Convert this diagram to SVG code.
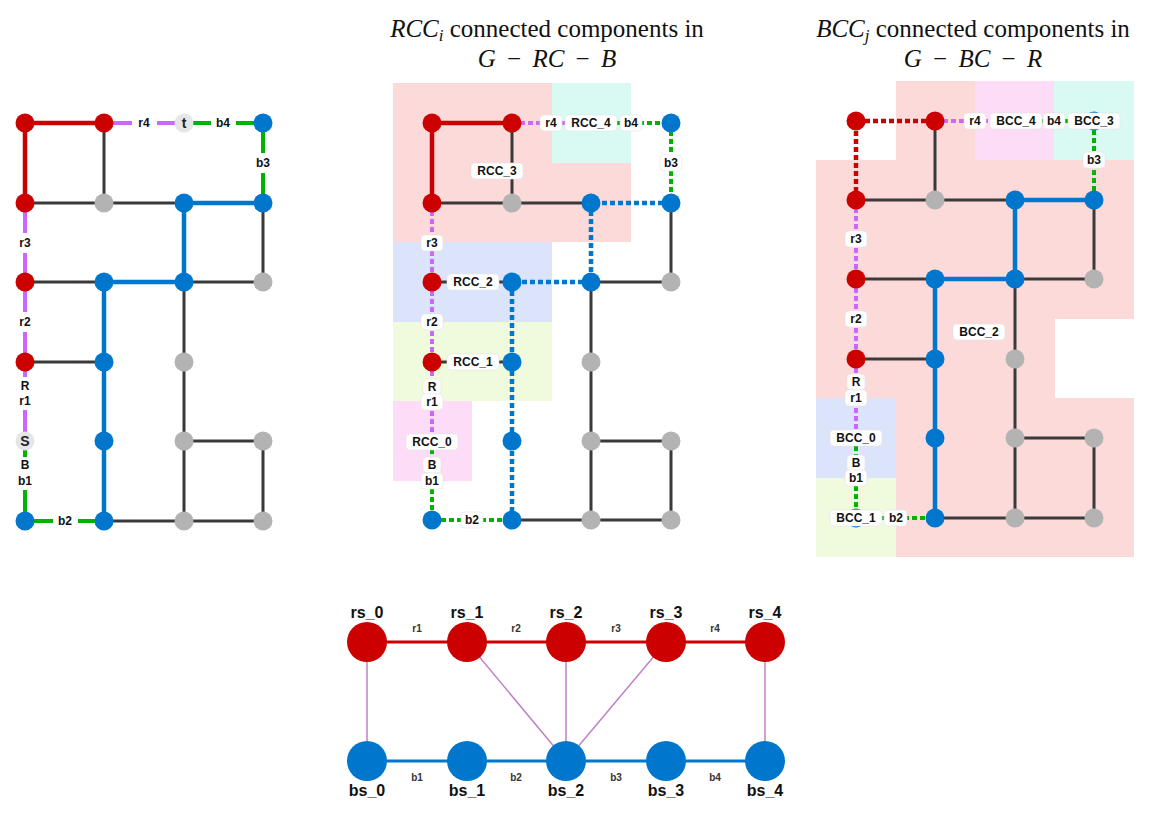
<svg xmlns="http://www.w3.org/2000/svg" width="1156" height="821" viewBox="0 0 1156 821">
<style>
.red{fill:#cc0000}.blue{fill:#0077cc}.gray{fill:#b3b3b3}.lt{fill:#e6e6e6}
.ed{stroke:#3a3a3a;stroke-width:3;fill:none}
.er{stroke:#cc0000;stroke-width:4.5;fill:none}
.eb{stroke:#0077cc;stroke-width:4.5;fill:none}
.ep{stroke:#cc66ff;stroke-width:4;fill:none}
.eg{stroke:#00b300;stroke-width:4;fill:none}
.dot{stroke-dasharray:5 3}
.lb{font-family:"Liberation Sans",Arial,sans-serif;font-weight:bold;font-size:12px;fill:#111;text-anchor:middle;dominant-baseline:central}
.box{fill:#fff;stroke:#e2e2e2;stroke-width:0.6}
.box0{fill:#fff}
.nl{font-family:"Liberation Sans",Arial,sans-serif;font-weight:bold;font-size:14px;fill:#222;text-anchor:middle;dominant-baseline:central}
.title{font-family:"Liberation Serif","DejaVu Serif",serif;font-size:25px;fill:#111;text-anchor:middle}
.bn{font-family:"Liberation Sans",Arial,sans-serif;font-weight:bold;font-size:16px;fill:#111;text-anchor:middle}
.bl{font-family:"Liberation Sans",Arial,sans-serif;font-weight:bold;font-size:10px;fill:#333;text-anchor:middle}
.pr{stroke:#cc0000;stroke-width:3}
.pb{stroke:#0077cc;stroke-width:3}
.pm{stroke:#c080c8;stroke-width:1.5}
</style>

<!-- titles -->
<g id="titles">
<text class="title" x="547" y="37"><tspan font-style="italic">RCC</tspan><tspan font-style="italic" font-size="17" dy="4">i</tspan><tspan dy="-4"> connected components in</tspan></text>
<text class="title" x="547" y="67"><tspan font-style="italic">G</tspan><tspan dx="5"> − </tspan><tspan dx="5" font-style="italic">RC</tspan><tspan dx="5"> − </tspan><tspan dx="5" font-style="italic">B</tspan></text>
<text class="title" x="973" y="37"><tspan font-style="italic">BCC</tspan><tspan font-style="italic" font-size="17" dy="4">j</tspan><tspan dy="-4"> connected components in</tspan></text>
<text class="title" x="973" y="67"><tspan font-style="italic">G</tspan><tspan dx="5"> − </tspan><tspan dx="5" font-style="italic">BC</tspan><tspan dx="5"> − </tspan><tspan dx="5" font-style="italic">R</tspan></text>
</g>

<!-- background regions -->
<g id="regions">
<path d="M393 83H631V242H393Z" fill="#fcdada"/>
<rect x="552" y="83" width="79" height="80" fill="#d8faf2"/>
<rect x="393" y="242" width="159" height="80" fill="#dbe4fb"/>
<rect x="393" y="322" width="159" height="79" fill="#effbdc"/>
<rect x="393" y="401" width="79" height="80" fill="#fcdcf6"/>

<path d="M896 81H975V160H1134V319H1055V398H1134V557H896V398H816V160H896Z" fill="#fcdada"/>
<rect x="975" y="81" width="79" height="79" fill="#fcdcf6"/>
<rect x="1054" y="81" width="80" height="79" fill="#d8faf2"/>
<rect x="816" y="398" width="80" height="80" fill="#dbe4fb"/>
<rect x="816" y="478" width="80" height="79" fill="#effbdc"/>
</g>

<!-- connectors -->
<g id="connectors">
<!-- left grid -->
<path class="ed" d="M104 123V203M25 203H184M263 203V282M25 282H104M184 282H263M184 282V521M25 362H104M184 441H263M263 441V521M104 521H263"/>
<path class="er" d="M25 203V123H104"/>
<path class="eb" d="M263 203H184V282M184 282H104V521"/>
<path class="ep" d="M104 123H184M25 203V441"/>
<path class="eg" d="M184 123H263V203M25 441V521H104"/>

<!-- middle grid -->
<path class="ed" d="M512 123V203M432 203H591M671 203V282M432 282H512M591 282H671M591 282V520M432 362H512M591 441H671M671 441V520M512 520H671"/>
<path class="er" d="M432 203V123H512"/>
<path class="eb dot" d="M671 203H591V282M591 282H512V520"/>
<path class="ep dot" d="M512 123H591M432 203V441"/>
<path class="eg dot" d="M591 123H671V203M432 441V520H512"/>

<!-- right grid -->
<path class="ed" d="M935 121V200M856 200H1015M1094 200V279M856 279H935M1015 279H1094M1015 279V518M856 359H935M1015 438H1094M1094 438V518M935 518H1094"/>
<path class="er dot" d="M856 200V121H935"/>
<path class="eb" d="M1094 200H1015V279M1015 279H935V518"/>
<path class="ep dot" d="M935 121H1015M856 200V438"/>
<path class="eg dot" d="M1015 121H1094V200M856 438V518H935"/>

<!-- edge labels left -->
<rect class="box0" x="132" y="115" width="25" height="16"/><text class="lb" x="144" y="123">r4</text>
<rect class="box0" x="211" y="115" width="25" height="16"/><text class="lb" x="223" y="123">b4</text>
<rect class="box0" x="252" y="153" width="22" height="20"/><text class="lb" x="263" y="163">b3</text>
<rect class="box0" x="14" y="233" width="22" height="20"/><text class="lb" x="25" y="243">r3</text>
<rect class="box0" x="14" y="312" width="22" height="20"/><text class="lb" x="25" y="322">r2</text>
<rect class="box0" x="14" y="377" width="22" height="33"/><text class="lb" x="25" y="386">R</text><text class="lb" x="25" y="401">r1</text>
<rect class="box0" x="14" y="457" width="22" height="33"/><text class="lb" x="25" y="465">B</text><text class="lb" x="25" y="481">b1</text>
<rect class="box0" x="53" y="513" width="25" height="16"/><text class="lb" x="65" y="521">b2</text>

<!-- edge labels middle -->
<rect class="box" x="540" y="115" width="22" height="16" rx="4"/><text class="lb" x="551" y="123">r4</text>
<rect class="box" x="620" y="115" width="22" height="16" rx="4"/><text class="lb" x="631" y="123">b4</text>
<rect class="box" x="660" y="155" width="22" height="16" rx="4"/><text class="lb" x="671" y="163">b3</text>
<rect class="box" x="421" y="235" width="22" height="16" rx="4"/><text class="lb" x="432" y="243">r3</text>
<rect class="box" x="421" y="314" width="22" height="16" rx="4"/><text class="lb" x="432" y="322">r2</text>
<rect class="box" x="423" y="379" width="18" height="16" rx="4"/><text class="lb" x="432" y="387">R</text>
<rect class="box" x="421" y="394" width="22" height="16" rx="4"/><text class="lb" x="432" y="402">r1</text>
<rect class="box" x="423" y="457" width="18" height="16" rx="4"/><text class="lb" x="432" y="465">B</text>
<rect class="box" x="421" y="473" width="22" height="16" rx="4"/><text class="lb" x="432" y="481">b1</text>
<rect class="box" x="461" y="512" width="22" height="16" rx="4"/><text class="lb" x="472" y="520">b2</text>

<!-- edge labels right -->
<rect class="box" x="964" y="113" width="22" height="16" rx="4"/><text class="lb" x="975" y="121">r4</text>
<rect class="box" x="1043" y="113" width="22" height="16" rx="4"/><text class="lb" x="1054" y="121">b4</text>
<rect class="box" x="1083" y="152" width="22" height="16" rx="4"/><text class="lb" x="1094" y="160">b3</text>
<rect class="box" x="845" y="231" width="22" height="16" rx="4"/><text class="lb" x="856" y="239">r3</text>
<rect class="box" x="845" y="311" width="22" height="16" rx="4"/><text class="lb" x="856" y="319">r2</text>
<rect class="box" x="847" y="374" width="18" height="16" rx="4"/><text class="lb" x="856" y="382">R</text>
<rect class="box" x="845" y="390" width="22" height="16" rx="4"/><text class="lb" x="856" y="398">r1</text>
<rect class="box" x="847" y="455" width="18" height="16" rx="4"/><text class="lb" x="856" y="463">B</text>
<rect class="box" x="845" y="470" width="22" height="16" rx="4"/><text class="lb" x="856" y="478">b1</text>
<rect class="box" x="884" y="510" width="23" height="16" rx="4"/><text class="lb" x="896" y="518">b2</text>

<!-- bottom graph edges -->
<path class="pm" d="M367 642V761M467 642L566 761M566 642V761M666 642L566 761M765 642V761"/>
<path class="pr" d="M367 642H765"/>
<path class="pb" d="M367 761H765"/>
<text class="bl" x="417" y="632">r1</text>
<text class="bl" x="516" y="632">r2</text>
<text class="bl" x="616" y="632">r3</text>
<text class="bl" x="715" y="632">r4</text>
<text class="bl" x="417" y="781">b1</text>
<text class="bl" x="516" y="781">b2</text>
<text class="bl" x="616" y="781">b3</text>
<text class="bl" x="715" y="781">b4</text>
</g>

<!-- left grid nodes -->
<g id="L00"><circle class="red" cx="25" cy="123" r="9.5"/></g>
<g id="L01"><circle class="red" cx="104" cy="123" r="9.5"/></g>
<g id="L02"><circle class="lt" cx="184" cy="123" r="9.5"/><text class="nl" x="184" y="123">t</text></g>
<g id="L03"><circle class="blue" cx="263" cy="123" r="9.5"/></g>
<g id="L10"><circle class="red" cx="25" cy="203" r="9.5"/></g>
<g id="L11"><circle class="gray" cx="104" cy="203" r="9.5"/></g>
<g id="L12"><circle class="blue" cx="184" cy="203" r="9.5"/></g>
<g id="L13"><circle class="blue" cx="263" cy="203" r="9.5"/></g>
<g id="L20"><circle class="red" cx="25" cy="282" r="9.5"/></g>
<g id="L21"><circle class="blue" cx="104" cy="282" r="9.5"/></g>
<g id="L22"><circle class="blue" cx="184" cy="282" r="9.5"/></g>
<g id="L23"><circle class="gray" cx="263" cy="282" r="9.5"/></g>
<g id="L30"><circle class="red" cx="25" cy="362" r="9.5"/></g>
<g id="L31"><circle class="blue" cx="104" cy="362" r="9.5"/></g>
<g id="L32"><circle class="gray" cx="184" cy="362" r="9.5"/></g>
<g id="L40"><circle class="lt" cx="25" cy="441" r="9.5"/><text class="nl" x="25" y="441" font-size="12">S</text></g>
<g id="L41"><circle class="blue" cx="104" cy="441" r="9.5"/></g>
<g id="L42"><circle class="gray" cx="184" cy="441" r="9.5"/></g>
<g id="L43"><circle class="gray" cx="263" cy="441" r="9.5"/></g>
<g id="L50"><circle class="blue" cx="25" cy="521" r="9.5"/></g>
<g id="L51"><circle class="blue" cx="104" cy="521" r="9.5"/></g>
<g id="L52"><circle class="gray" cx="184" cy="521" r="9.5"/></g>
<g id="L53"><circle class="gray" cx="263" cy="521" r="9.5"/></g>

<!-- middle grid nodes -->
<g id="M00"><circle class="red" cx="432" cy="123" r="9.5"/></g>
<g id="M01"><circle class="red" cx="512" cy="123" r="9.5"/></g>
<g id="M03"><circle class="blue" cx="671" cy="123" r="9.5"/></g>
<g id="M10"><circle class="red" cx="432" cy="203" r="9.5"/></g>
<g id="M11"><circle class="gray" cx="512" cy="203" r="9.5"/></g>
<g id="M12"><circle class="blue" cx="591" cy="203" r="9.5"/></g>
<g id="M13"><circle class="blue" cx="671" cy="203" r="9.5"/></g>
<g id="M20"><circle class="red" cx="432" cy="282" r="9.5"/></g>
<g id="M21"><circle class="blue" cx="512" cy="282" r="9.5"/></g>
<g id="M22"><circle class="blue" cx="591" cy="282" r="9.5"/></g>
<g id="M23"><circle class="gray" cx="671" cy="282" r="9.5"/></g>
<g id="M30"><circle class="red" cx="432" cy="362" r="9.5"/></g>
<g id="M31"><circle class="blue" cx="512" cy="362" r="9.5"/></g>
<g id="M32"><circle class="gray" cx="591" cy="362" r="9.5"/></g>
<g id="M41"><circle class="blue" cx="512" cy="441" r="9.5"/></g>
<g id="M42"><circle class="gray" cx="591" cy="441" r="9.5"/></g>
<g id="M43"><circle class="gray" cx="671" cy="441" r="9.5"/></g>
<g id="M50"><circle class="blue" cx="432" cy="520" r="9.5"/></g>
<g id="M51"><circle class="blue" cx="512" cy="520" r="9.5"/></g>
<g id="M52"><circle class="gray" cx="591" cy="520" r="9.5"/></g>
<g id="M53"><circle class="gray" cx="671" cy="520" r="9.5"/></g>

<!-- right grid nodes -->
<g id="R00"><circle class="red" cx="856" cy="121" r="9.5"/></g>
<g id="R01"><circle class="red" cx="935" cy="121" r="9.5"/></g>
<g id="R03"><circle class="blue" cx="1094" cy="121" r="9.5"/></g>
<g id="R10"><circle class="red" cx="856" cy="200" r="9.5"/></g>
<g id="R11"><circle class="gray" cx="935" cy="200" r="9.5"/></g>
<g id="R12"><circle class="blue" cx="1015" cy="200" r="9.5"/></g>
<g id="R13"><circle class="blue" cx="1094" cy="200" r="9.5"/></g>
<g id="R20"><circle class="red" cx="856" cy="279" r="9.5"/></g>
<g id="R21"><circle class="blue" cx="935" cy="279" r="9.5"/></g>
<g id="R22"><circle class="blue" cx="1015" cy="279" r="9.5"/></g>
<g id="R23"><circle class="gray" cx="1094" cy="279" r="9.5"/></g>
<g id="R30"><circle class="red" cx="856" cy="359" r="9.5"/></g>
<g id="R31"><circle class="blue" cx="935" cy="359" r="9.5"/></g>
<g id="R32"><circle class="gray" cx="1015" cy="359" r="9.5"/></g>
<g id="R41"><circle class="blue" cx="935" cy="438" r="9.5"/></g>
<g id="R42"><circle class="gray" cx="1015" cy="438" r="9.5"/></g>
<g id="R43"><circle class="gray" cx="1094" cy="438" r="9.5"/></g>
<g id="R50"><circle class="blue" cx="856" cy="518" r="9.5"/></g>
<g id="R51"><circle class="blue" cx="935" cy="518" r="9.5"/></g>
<g id="R52"><circle class="gray" cx="1015" cy="518" r="9.5"/></g>
<g id="R53"><circle class="gray" cx="1094" cy="518" r="9.5"/></g>

<!-- component labels -->
<g id="RCC_4"><rect class="box" x="565" y="115" width="52" height="16" rx="4"/><text class="lb" x="591" y="123">RCC_4</text></g>
<g id="RCC_3"><rect class="box" x="471" y="163" width="52" height="16" rx="4"/><text class="lb" x="497" y="171">RCC_3</text></g>
<g id="RCC_2"><rect class="box" x="447" y="274" width="52" height="16" rx="4"/><text class="lb" x="473" y="282">RCC_2</text></g>
<g id="RCC_1"><rect class="box" x="447" y="354" width="52" height="16" rx="4"/><text class="lb" x="473" y="362">RCC_1</text></g>
<g id="RCC_0"><rect class="box" x="406" y="434" width="52" height="16" rx="4"/><text class="lb" x="432" y="442">RCC_0</text></g>
<g id="BCC_4"><rect class="box" x="990" y="113" width="52" height="16" rx="4"/><text class="lb" x="1016" y="121">BCC_4</text></g>
<g id="BCC_3"><rect class="box" x="1068" y="113" width="52" height="16" rx="4"/><text class="lb" x="1094" y="121">BCC_3</text></g>
<g id="BCC_2"><rect class="box" x="953" y="324" width="52" height="16" rx="4"/><text class="lb" x="979" y="332">BCC_2</text></g>
<g id="BCC_0"><rect class="box" x="830" y="430" width="52" height="16" rx="4"/><text class="lb" x="856" y="438">BCC_0</text></g>
<g id="BCC_1"><rect class="box" x="830" y="510" width="52" height="16" rx="4"/><text class="lb" x="856" y="518">BCC_1</text></g>

<!-- bottom graph nodes -->
<g id="rs_0"><circle class="red" cx="367" cy="642" r="20"/><text class="bn" x="367" y="618">rs_0</text></g>
<g id="rs_1"><circle class="red" cx="467" cy="642" r="20"/><text class="bn" x="467" y="618">rs_1</text></g>
<g id="rs_2"><circle class="red" cx="566" cy="642" r="20"/><text class="bn" x="566" y="618">rs_2</text></g>
<g id="rs_3"><circle class="red" cx="666" cy="642" r="20"/><text class="bn" x="666" y="618">rs_3</text></g>
<g id="rs_4"><circle class="red" cx="765" cy="642" r="20"/><text class="bn" x="765" y="618">rs_4</text></g>
<g id="bs_0"><circle class="blue" cx="367" cy="761" r="20"/><text class="bn" x="367" y="796">bs_0</text></g>
<g id="bs_1"><circle class="blue" cx="467" cy="761" r="20"/><text class="bn" x="467" y="796">bs_1</text></g>
<g id="bs_2"><circle class="blue" cx="566" cy="761" r="20"/><text class="bn" x="566" y="796">bs_2</text></g>
<g id="bs_3"><circle class="blue" cx="666" cy="761" r="20"/><text class="bn" x="666" y="796">bs_3</text></g>
<g id="bs_4"><circle class="blue" cx="765" cy="761" r="20"/><text class="bn" x="765" y="796">bs_4</text></g>
</svg>
